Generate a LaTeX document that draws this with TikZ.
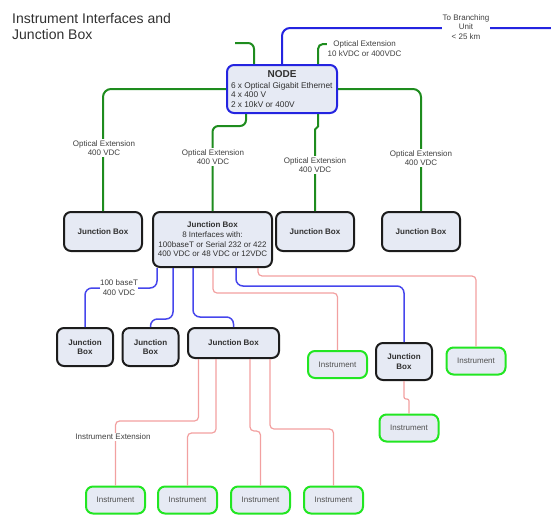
\documentclass[tikz,border=0pt]{standalone}
\usepackage{fontspec}
\setmainfont{Liberation Sans}
\usetikzlibrary{positioning}

\definecolor{boxfill}{HTML}{E6EAF4}
\definecolor{nodeblue}{HTML}{2424E0}
\definecolor{jbline}{HTML}{1C1C1C}
\definecolor{instgreen}{HTML}{22E622}
\definecolor{linegreen}{HTML}{1E8C1E}
\definecolor{lineblue}{HTML}{2424E0}
\definecolor{lineblue2}{HTML}{4646EC}
\definecolor{linered}{HTML}{F2A0A0}
\definecolor{boxtext}{HTML}{303030}
\definecolor{insttext}{HTML}{505050}
\definecolor{lbltext}{HTML}{404040}

\begin{document}
\begin{tikzpicture}[
    x=1pt, y=-1pt,
    boxbase/.style = {draw, line width=2pt, rounded corners=7pt, fill=boxfill,
                align=center, inner sep=0pt, text=boxtext,
                font=\fontsize{8}{9.7}\selectfont},
    jbox/.style = {boxbase, draw=jbline, font=\bfseries\fontsize{8}{9.7}\selectfont},
    instr/.style = {boxbase, draw=instgreen, text=insttext,
                minimum width=59pt, minimum height=27pt},
    lbl/.style = {fill=white, align=center, inner xsep=0.5pt, inner ysep=1pt,
                text=lbltext, font=\fontsize{8}{9.3}\selectfont},
    grn/.style = {draw=linegreen, line width=2pt, rounded corners=8pt},
    blu/.style = {draw=lineblue, line width=2pt, rounded corners=8pt},
    lblu/.style = {draw=lineblue2, line width=1.5pt, rounded corners=7pt},
    rd/.style = {draw=linered, line width=1.2pt, rounded corners=4pt}
                    ]
\useasboundingbox (0,0) rectangle (551,514);

\node (title) [anchor=north west, inner sep=0pt, align=left,
      font=\fontsize{14}{16.5}\selectfont, text=boxtext] at (12,13)
      {Instrument Interfaces and\\Junction Box};

% main node
\node (nd) [boxbase, draw=nodeblue, minimum width=110pt, minimum height=48pt,
      align=left, font=\fontsize{8.3}{9.5}\selectfont] at (282,89)
      {\makebox[102pt]{\bfseries\fontsize{10}{12}\selectfont NODE}\\[1.5pt]
       6 x Optical Gigabit Ethernet\\ 4 x 400 V\\ 2 x 10kV or 400V};

% first row
\node (jb1) [jbox, minimum width=78pt, minimum height=39pt] at (103,231.5) {Junction Box};
\node (jb2) [jbox, font=\fontsize{8}{9.7}\selectfont, minimum width=119pt,
      minimum height=55pt] at (212.5,239.5)
      {\textbf{Junction Box}\\ 8 Interfaces with:\\ 100baseT or Serial 232 or 422\\
       400 VDC or 48 VDC or 12VDC};
\node (jb3) [jbox, minimum width=78pt, minimum height=39pt] at (315,231.5) {Junction Box};
\node (jb4) [jbox, minimum width=78pt, minimum height=39pt] at (421,231.5) {Junction Box};

% second row
\node (jb5) [jbox, minimum width=56pt, minimum height=38pt] at (85,347) {Junction\\Box};
\node (jb6) [jbox, minimum width=56pt, minimum height=38pt] at (150.5,347) {Junction\\Box};
\node (jb7) [jbox, minimum width=91pt, minimum height=30pt] at (233.5,343) {Junction Box};
\node (insta) [instr] at (337.5,364.5) {Instrument};
\node (jb8) [jbox, minimum width=56pt, minimum height=37pt] at (404,361.5) {Junction\\Box};
\node (instb) [instr] at (476,361) {Instrument};
\node (instg) [instr] at (409,428) {Instrument};

% bottom row
\node (instc) [instr] at (115.5,500) {Instrument};
\node (instd) [instr] at (187.5,500) {Instrument};
\node (inste) [instr] at (260.5,500) {Instrument};
\node (instf) [instr] at (333.5,500) {Instrument};

% links of the node
\coordinate (stub) at (235,43);
\coordinate (oe) at (327,44);
\coordinate (bu) at (551,28);
\draw[grn, rounded corners=6pt] ([xshift=-28pt]nd.north) |- (stub);
\draw[grn, rounded corners=5pt] ([xshift=36pt]nd.north) |- (oe);
\draw[blu] (nd.north) |- (bu);
\draw[grn] (nd.west) -| (jb1.north);
\draw[grn] (nd.east) -| (jb4.north);
\draw[grn, rounded corners=6pt] ([xshift=-36pt]nd.south) -- ++(0,12) -| (jb2.north);
\draw[grn, rounded corners=1.5pt] ([xshift=36pt]nd.south) -- ++(0,14) -| (jb3.north);

% links of the big junction box
\draw[lblu] ([xshift=-55.5pt]jb2.south) -- ++(0,20) -| (jb5.north);
\draw[lblu] ([xshift=-39.5pt]jb2.south) -- ++(0,51) -| (jb6.north);
\draw[lblu] ([xshift=-19.5pt]jb2.south) -- ++(0,49) -| (jb7.north);
\draw[rd] ([xshift=0.5pt]jb2.south) -- ++(0,25) -| (insta.north);
\draw[lblu] ([xshift=23.5pt]jb2.south) -- ++(0,18) -| (jb8.north);
\draw[rd] ([xshift=45.5pt]jb2.south) -- ++(0,8) -| (instb.north);

\draw[rd] ([xshift=-35pt]jb7.south) -- ++(0,62) -| (instc.north);
\draw[rd] ([xshift=-17.5pt]jb7.south) -- ++(0,74) -| (instd.north);
\draw[rd] ([xshift=16.5pt]jb7.south) -- ++(0,72) -| (inste.north);
\draw[rd] ([xshift=36.5pt]jb7.south) -- ++(0,70) -| (instf.north);
\draw[rd, rounded corners=2pt] (jb8.south) -- ++(0,18) -| (instg.north);

% labels
\node (lblbu) [lbl] at (466,27) {To Branching\\Unit\\< 25 km};
\node (lbloe) [lbl, anchor=west] at (oe) [yshift=-4.5pt] {Optical Extension\\10 kVDC or 400VDC};
\node (lbl1) [lbl] at (104,148) {Optical Extension\\400 VDC};
\node (lbl2) [lbl] at (213,157) {Optical Extension\\400 VDC};
\node (lbl3) [lbl] at (315,165) {Optical Extension\\400 VDC};
\node (lbl4) [lbl] at (421,158) {Optical Extension\\400 VDC};
\node (lbl100) [lbl] at (119,287.5) {100 baseT\\400 VDC};
\node (lblie) [lbl] at (113,437) {Instrument Extension};

\end{tikzpicture}
\end{document}
